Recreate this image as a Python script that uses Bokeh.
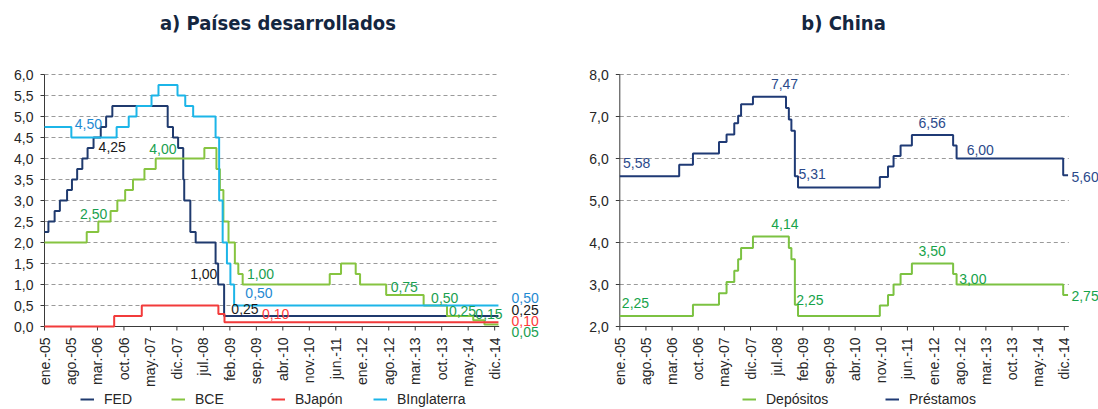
import calendar
import math
from bokeh.plotting import figure
from bokeh.models import Range1d, Label, Legend, LegendItem
from bokeh.core.properties import value
from bokeh.layouts import row
from bokeh.embed import file_html
from bokeh.resources import INLINE

# ---------------- data ----------------
x_tick_months = ["2005-01", "2005-08", "2006-03", "2006-10", "2007-05", "2007-12",
                 "2008-07", "2009-02", "2009-09", "2010-04", "2010-11", "2011-06",
                 "2012-01", "2012-08", "2013-03", "2013-10", "2014-05", "2014-12"]
x_tick_labels = ["ene.-05", "ago.-05", "mar.-06", "oct.-06", "may.-07", "dic.-07",
                 "jul.-08", "feb.-09", "sep.-09", "abr.-10", "nov.-10", "jun.-11",
                 "ene.-12", "ago.-12", "mar.-13", "oct.-13", "may.-14", "dic.-14"]
period_end = "2015-01-01"

# a) Países desarrollados: policy rate change dates and new levels (%)
fed_dates = ["2005-01-01", "2005-02-02", "2005-03-22", "2005-05-03", "2005-06-30", "2005-08-09",
             "2005-09-20", "2005-11-01", "2005-12-13", "2006-01-31", "2006-03-28", "2006-05-10",
             "2006-06-29", "2007-09-18", "2007-10-31", "2007-12-11", "2008-01-22", "2008-01-30",
             "2008-03-18", "2008-04-30", "2008-10-08", "2008-10-29", "2008-12-16"]
fed_rates = [2.25, 2.50, 2.75, 3.00, 3.25, 3.50, 3.75, 4.00, 4.25, 4.50, 4.75, 5.00,
             5.25, 4.75, 4.50, 4.25, 3.50, 3.00, 2.25, 2.00, 1.50, 1.00, 0.25]

bce_dates = ["2005-01-01", "2005-12-06", "2006-03-08", "2006-06-15", "2006-08-09", "2006-10-11",
             "2006-12-13", "2007-03-14", "2007-06-13", "2008-07-09", "2008-10-15", "2008-11-12",
             "2008-12-10", "2009-01-21", "2009-03-11", "2009-04-08", "2009-05-13", "2011-04-13",
             "2011-07-13", "2011-11-09", "2011-12-14", "2012-07-11", "2013-05-08", "2013-11-13",
             "2014-06-11", "2014-09-10"]
bce_rates = [2.00, 2.25, 2.50, 2.75, 3.00, 3.25, 3.50, 3.75, 4.00, 4.25, 3.75, 3.25,
             2.50, 2.00, 1.50, 1.25, 1.00, 1.25, 1.50, 1.25, 1.00, 0.75, 0.50, 0.25,
             0.15, 0.05]

bjapon_dates = ["2005-01-01", "2006-07-14", "2007-02-21", "2008-10-31", "2008-12-19"]
bjapon_rates = [0.00, 0.25, 0.50, 0.30, 0.10]

bingl_dates = ["2005-01-01", "2005-08-04", "2006-08-03", "2006-11-09", "2007-01-11", "2007-05-10",
               "2007-07-05", "2007-12-06", "2008-02-07", "2008-04-10", "2008-10-08", "2008-11-06",
               "2008-12-04", "2009-01-08", "2009-02-05", "2009-03-05"]
bingl_rates = [4.75, 4.50, 4.75, 5.00, 5.25, 5.50, 5.75, 5.50, 5.25, 5.00, 4.50, 3.00,
               2.00, 1.50, 1.00, 0.50]

# b) China
china_dates = ["2005-01-01", "2006-04-28", "2006-08-19", "2007-03-18", "2007-05-19", "2007-07-21",
               "2007-08-22", "2007-09-15", "2007-12-21", "2008-09-16", "2008-10-09", "2008-10-30",
               "2008-11-27", "2008-12-23", "2010-10-20", "2010-12-26", "2011-02-09", "2011-04-06",
               "2011-07-07", "2012-06-08", "2012-07-06", "2014-11-22"]
prestamos_rates = [5.58, 5.85, 6.12, 6.39, 6.57, 6.84, 7.02, 7.29, 7.47, 7.20, 6.93, 6.66,
                   5.58, 5.31, 5.56, 5.81, 6.06, 6.31, 6.56, 6.31, 6.00, 5.60]
depositos_rates = [2.25, 2.25, 2.52, 2.79, 3.06, 3.33, 3.60, 3.87, 4.14, 4.14, 3.87, 3.60,
                   2.52, 2.25, 2.50, 2.75, 3.00, 3.25, 3.50, 3.25, 3.00, 2.75]

# value annotations: (value, x position [months since ene.-05], y position [axis units], series)
left_notes = [(4.50, 11.6, 4.81, "bingl"), (4.25, 17.9, 4.27, "fed"), (4.00, 31.3, 4.23, "bce"),
              (2.50, 13.0, 2.68, "bce"), (1.00, 42.1, 1.24, "fed"), (1.00, 57.1, 1.25, "bce"),
              (0.50, 56.7, 0.80, "bingl"), (0.25, 53.0, 0.42, "fed"), (0.10, 61.1, 0.30, "bjapon"),
              (0.75, 95.1, 0.94, "bce"), (0.50, 105.8, 0.67, "bce"), (0.25, 110.5, 0.38, "bce"),
              (0.15, 117.5, 0.30, "bce")]
left_end_notes = [(0.50, 0.67, "bingl"), (0.25, 0.40, "fed"), (0.10, 0.12, "bjapon"), (0.05, -0.14, "bce")]
right_notes = [(5.58, 4.5, 5.90, "prest"), (7.47, 44.1, 7.78, "prest"), (5.31, 51.5, 5.62, "prest"),
               (6.56, 83.6, 6.85, "prest"), (6.00, 96.5, 6.21, "prest"),
               (2.25, 4.2, 2.56, "depo"), (4.14, 44.2, 4.45, "depo"), (2.25, 50.9, 2.62, "depo"),
               (3.50, 83.6, 3.79, "depo"), (3.00, 94.5, 3.14, "depo")]
right_end_notes = [(5.60, 5.57, "prest"), (2.75, 2.72, "depo")]

# ---------------- styles / layout ----------------
line_col = {"fed": "#1f3a6e", "bce": "#86c440", "bjapon": "#f23b3b", "bingl": "#1cb5e8",
            "prest": "#1f3a75", "depo": "#7cc242"}
note_col = {"fed": "#1a1a1a", "bce": "#1aa050", "bjapon": "#ff3b3b", "bingl": "#1f8ad2",
            "prest": "#2b4a8b", "depo": "#17a34a"}
FONT = "Liberation Sans"
TITLE_FONT = "DejaVu Sans Condensed"
TITLE_COL = "#142640"
AXIS_COL = "#3a3a3a"
TEXT_COL = "#262626"
GRID_COL = "#9a9a9a"
X_END = 120.2
H = 409
PLOT_TOP, PLOT_BOTTOM = 74, 326   # pixel rows of the plotting area


def month_pos(s):
    parts = [int(v) for v in s.split("-")]
    y, m = parts[0], parts[1]
    d = parts[2] if len(parts) > 2 else 1
    dim = calendar.monthrange(y, m)[1]
    return (y - 2005) * 12 + (m - 1) + (d - 1) / dim


def fmt(v, nd=2):
    return f"{v:.{nd}f}".replace(".", ",")


tick_pos = [month_pos(m) for m in x_tick_months]
end_pos = month_pos(period_end)


def make_fig(width, fl, fr, ymin, ymax, ystep):
    ppm = (fr - fl) / X_END                       # pixels per month
    ppu = (PLOT_BOTTOM - PLOT_TOP) / (ymax - ymin)  # pixels per unit
    p = figure(width=width, height=H, output_backend="svg", toolbar_location=None,
               x_axis_location=None, y_axis_location=None,
               x_range=Range1d(-fl / ppm, (width - fl) / ppm),
               y_range=Range1d(ymin - (H - PLOT_BOTTOM) / ppu, ymax + PLOT_TOP / ppu),
               min_border=0)
    p.min_border_left = p.min_border_right = p.min_border_top = p.min_border_bottom = 0
    p.outline_line_color = None
    p.grid.visible = False
    p.background_fill_color = "white"
    p.border_fill_color = "white"
    n = int(round((ymax - ymin) / ystep))
    yt = [ymin + i * ystep for i in range(n + 1)]
    # dashed horizontal grid
    p.segment(x0=[0] * n, y0=yt[1:], x1=[X_END] * n, y1=yt[1:], line_color=GRID_COL,
              line_dash="4 3", line_width=1)
    # y axis with ticks and labels
    p.segment(x0=[0], y0=[ymin], x1=[0], y1=[ymax], line_color=AXIS_COL, line_width=1)
    p.segment(x0=[-4 / ppm] * len(yt), y0=yt, x1=[0] * len(yt), y1=yt, line_color=AXIS_COL)
    p.text(x=[-11 / ppm] * len(yt), y=yt, text=[fmt(v, 1) for v in yt], text_align="right",
           text_baseline="middle", text_font=value(FONT), text_font_size="14px",
           text_color=TEXT_COL)
    # x axis with ticks and rotated labels
    p.segment(x0=[0], y0=[ymin], x1=[X_END], y1=[ymin], line_color=AXIS_COL, line_width=1)
    p.segment(x0=tick_pos, y0=[ymin] * len(tick_pos), x1=tick_pos,
              y1=[ymin - 4 / ppu] * len(tick_pos), line_color=AXIS_COL)
    p.text(x=tick_pos, y=[ymin - 11 / ppu] * len(tick_pos), text=x_tick_labels,
           angle=math.pi / 2, text_align="right", text_baseline="middle",
           text_font=value(FONT), text_font_size="14px", text_color=TEXT_COL)
    return p


def step(p, dates, rates, key):
    xs = [month_pos(d) for d in dates] + [end_pos]
    ys = list(rates) + [rates[-1]]
    return p.step(xs, ys, mode="after", line_color=line_col[key], line_width=2)


def add_note(p, text, x, y, key, align="center"):
    p.add_layout(Label(x=x, y=y, text=text, text_font=FONT, text_font_size="14px",
                       text_color=note_col[key], text_align=align, text_baseline="middle"))


def add_title(p, text, x, y):
    p.add_layout(Label(x=x, y=y, text=text, text_font=TITLE_FONT, text_font_size="20px",
                       text_font_style="bold", text_color=TITLE_COL,
                       text_align="center", text_baseline="middle"))


def add_legend_item(p, label, renderer, left_px):
    leg = Legend(items=[LegendItem(label=label, renderers=[renderer])],
                 orientation="horizontal", location=(left_px, 2),
                 label_text_font=FONT, label_text_font_size="14px", label_text_color=TEXT_COL,
                 glyph_width=14, glyph_height=16, label_height=16, label_standoff=10,
                 padding=0, margin=0, border_line_color=None, background_fill_alpha=0)
    p.add_layout(leg)


# ---------------- left chart ----------------
p1 = make_fig(555, 44.0, 498.7, 0.0, 6.0, 0.5)
r_fed = step(p1, fed_dates, fed_rates, "fed")
r_bce = step(p1, bce_dates, bce_rates, "bce")
r_bjp = step(p1, bjapon_dates, bjapon_rates, "bjapon")
r_bin = step(p1, bingl_dates, bingl_rates, "bingl")
for v, x, y, k in left_notes:
    add_note(p1, fmt(v), x, y, k)
for v, y, k in left_end_notes:
    add_note(p1, fmt(v), 123.45, y, k, align="left")
add_title(p1, "a) Países desarrollados", 61.7, 7.238)
for lab, r, px in [("FED", r_fed, 80), ("BCE", r_bce, 171), ("BJapón", r_bjp, 271),
                   ("BInglaterra", r_bin, 373)]:
    add_legend_item(p1, lab, r, px)

# ---------------- right chart ----------------
p2 = make_fig(543, 64.3, 513.3, 2.0, 8.0, 1.0)
r_dep = step(p2, china_dates, depositos_rates, "depo")
r_pre = step(p2, china_dates, prestamos_rates, "prest")
for v, x, y, k in right_notes:
    add_note(p2, fmt(v), x, y, k)
for v, y, k in right_end_notes:
    add_note(p2, fmt(v), 120.9, y, k, align="left")
add_title(p2, "b) China", 59.9, 9.238)
for lab, r, px in [("Depósitos", r_dep, 187), ("Préstamos", r_pre, 330)]:
    add_legend_item(p2, lab, r, px)

layout = row(p1, p2)
open("out.html", "w").write(file_html(layout, INLINE))
